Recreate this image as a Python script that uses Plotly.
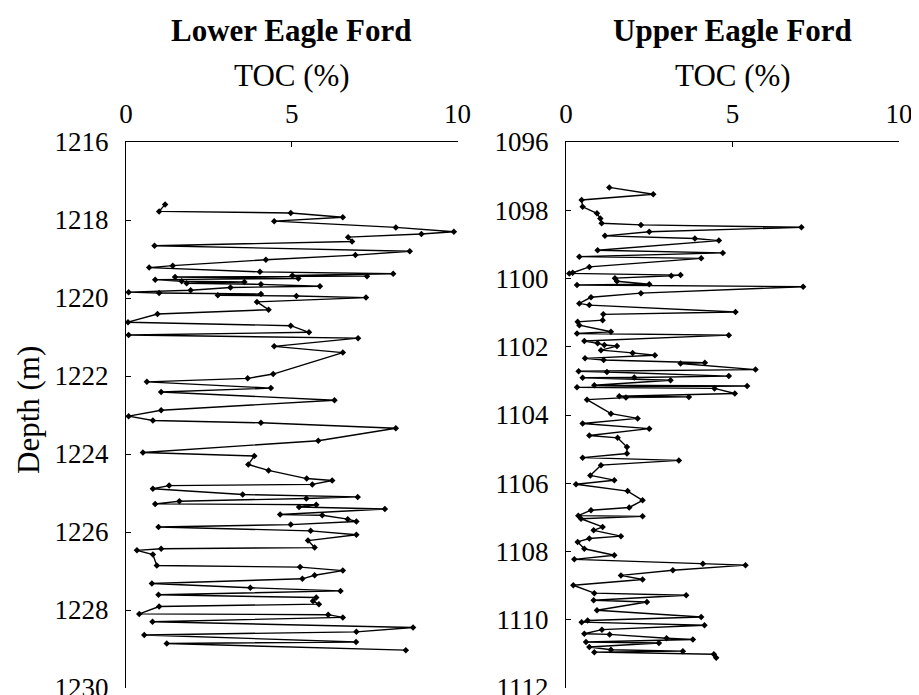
import plotly.graph_objects as go

# Lower Eagle Ford
lower_depth = [1217.60, 1217.78, 1217.82, 1217.93, 1218.03, 1218.19, 1218.30, 1218.36, 1218.44, 1218.55,
               1218.66, 1218.80, 1218.90, 1219.02, 1219.17, 1219.22, 1219.33, 1219.38, 1219.42, 1219.44,
               1219.46, 1219.50, 1219.53, 1219.57, 1219.59, 1219.62, 1219.65, 1219.70, 1219.73, 1219.80,
               1219.85, 1219.87, 1219.90, 1219.93, 1219.95, 1219.99, 1220.10, 1220.30, 1220.41, 1220.62,
               1220.71, 1220.88, 1220.95, 1221.03, 1221.24, 1221.40, 1221.95, 1222.06, 1222.15, 1222.31,
               1222.41, 1222.62, 1222.88, 1223.03, 1223.14, 1223.20, 1223.34, 1223.66, 1223.96, 1224.05,
               1224.27, 1224.42, 1224.63, 1224.68, 1224.78, 1224.81, 1224.89, 1225.04, 1225.10, 1225.14,
               1225.21, 1225.28, 1225.30, 1225.36, 1225.41, 1225.55, 1225.57, 1225.67, 1225.73, 1225.81,
               1225.87, 1225.97, 1226.07, 1226.22, 1226.40, 1226.43, 1226.47, 1226.58, 1226.86, 1226.90,
               1226.99, 1227.11, 1227.20, 1227.32, 1227.43, 1227.51, 1227.61, 1227.68, 1227.77, 1227.85,
               1227.91, 1228.10, 1228.12, 1228.19, 1228.30, 1228.45, 1228.56, 1228.64, 1228.82, 1228.86,
               1229.03]
lower_toc = [1.18, 1.00, 4.97, 6.54, 4.47, 8.14, 9.89, 8.91, 6.70, 6.82,
             0.86, 8.56, 6.92, 4.22, 1.41, 0.70, 4.04, 8.06, 5.02, 7.27,
             1.48, 5.20, 0.88, 1.68, 3.57, 1.83, 4.07, 5.85, 3.15, 1.95,
             0.08, 1.00, 4.07, 2.77, 5.14, 7.24, 3.95, 4.30, 0.95, 0.06,
             4.97, 5.52, 0.08, 7.00, 4.47, 6.54, 4.44, 3.67, 0.63, 4.37,
             1.06, 6.29, 1.06, 0.08, 0.81, 4.07, 8.14, 5.80, 0.51, 3.87,
             3.69, 4.30, 5.45, 6.22, 5.62, 1.30, 0.81, 3.52, 6.99, 5.44,
             1.61, 0.88, 5.74, 5.22, 7.81, 4.65, 5.92, 6.69, 6.95, 4.97,
             0.98, 5.57, 6.95, 5.49, 5.69, 1.06, 0.33, 0.81, 0.93, 5.25,
             6.54, 5.69, 5.32, 0.78, 3.75, 6.47, 0.98, 5.74, 5.64, 5.82,
             1.00, 0.40, 6.10, 6.54, 0.80, 8.66, 6.95, 0.55, 6.94, 1.23,
             8.44]

# Upper Eagle Ford
upper_depth = [1097.33, 1097.53, 1097.70, 1097.90, 1098.09, 1098.24, 1098.38, 1098.43, 1098.50, 1098.63,
               1098.75, 1098.83, 1098.89, 1099.17, 1099.25, 1099.36, 1099.41, 1099.66, 1099.83, 1099.85,
               1099.90, 1099.92, 1099.99, 1100.08, 1100.17, 1100.19, 1100.24, 1100.43, 1100.55, 1100.73,
               1100.78, 1100.98, 1101.05, 1101.22, 1101.27, 1101.37, 1101.56, 1101.61, 1101.66, 1101.83,
               1101.90, 1101.95, 1101.98, 1102.10, 1102.18, 1102.25, 1102.34, 1102.39, 1102.47, 1102.49,
               1102.67, 1102.72, 1102.74, 1102.86, 1102.90, 1102.91, 1102.98, 1103.13, 1103.15, 1103.19,
               1103.22, 1103.37, 1103.45, 1103.47, 1103.49, 1103.55, 1103.96, 1104.10, 1104.25, 1104.40,
               1104.60, 1104.67, 1104.94, 1105.13, 1105.25, 1105.33, 1105.47, 1105.77, 1105.91, 1106.03,
               1106.23, 1106.50, 1106.71, 1106.79, 1106.95, 1106.97, 1107.04, 1107.28, 1107.38, 1107.55,
               1107.62, 1107.72, 1107.92, 1108.11, 1108.23, 1108.36, 1108.40, 1108.55, 1108.70, 1108.82,
               1108.99, 1109.22, 1109.28, 1109.43, 1109.48, 1109.72, 1109.92, 1110.02, 1110.07, 1110.16,
               1110.29, 1110.41, 1110.43, 1110.54, 1110.58, 1110.65, 1110.68, 1110.80, 1110.88, 1110.92,
               1110.95, 1111.01, 1111.11]
upper_toc = [1.30, 2.62, 0.47, 0.50, 0.93, 1.03, 1.07, 2.25, 7.07, 2.50,
             1.17, 3.87, 4.59, 0.95, 4.71, 0.40, 4.06, 0.70, 0.20, 0.10,
             3.44, 3.16, 1.47, 1.53, 2.50, 0.33, 7.12, 2.25, 0.75, 0.40,
             0.70, 5.09, 1.12, 1.10, 0.35, 0.40, 1.35, 0.33, 4.89, 0.55,
             0.95, 1.15, 1.53, 1.05, 2.00, 2.67, 0.57, 1.13, 4.17, 3.44,
             5.69, 0.38, 1.23, 4.89, 2.05, 0.50, 3.14, 0.85, 5.44, 0.33,
             4.46, 5.07, 1.60, 3.69, 1.80, 0.63, 1.35, 2.15, 0.50, 2.50,
             0.70, 1.55, 1.83, 1.83, 0.50, 3.39, 1.05, 0.73, 1.45, 0.30,
             1.85, 2.30, 1.90, 0.75, 0.37, 2.30, 0.45, 1.10, 0.83, 1.65,
             0.70, 0.35, 0.55, 1.45, 0.25, 4.11, 5.39, 3.21, 1.65, 2.30,
             0.22, 0.85, 3.61, 0.83, 2.43, 0.93, 4.06, 0.65, 0.47, 4.16,
             1.08, 0.55, 1.31, 3.02, 3.81, 0.60, 2.79, 0.70, 1.35, 3.51,
             0.85, 4.44, 4.51]

toc_ticks = [0, 5, 10]
lower_ticks = [1216, 1218, 1220, 1222, 1224, 1226, 1228, 1230]
upper_ticks = [1096, 1098, 1100, 1102, 1104, 1106, 1108, 1110, 1112]

FONT = "Liberation Serif, Times New Roman, serif"
OFF = 8  # default page body margin
W, H = 919 - OFF, 695 - OFF


def px(x):
    return (x - OFF) / W


def py(y):
    return 1 - (y - OFF) / H


fig = go.Figure()
style = dict(mode="lines+markers", line=dict(color="black", width=1.4),
             marker=dict(symbol="diamond", size=5, color="black"), showlegend=False,
             cliponaxis=False)
fig.add_trace(go.Scatter(x=lower_toc, y=lower_depth, xaxis="x", yaxis="y", **style))
fig.add_trace(go.Scatter(x=upper_toc, y=upper_depth, xaxis="x2", yaxis="y2", **style))

ydom = [py(688), py(142)]
x1dom = [px(126), px(457.5)]
x2dom = [px(566), px(899)]

xcommon = dict(range=[0, 10], tickvals=toc_ticks, side="top", showline=True, linecolor="black",
               linewidth=1.3, ticks="inside", ticklen=5, tickcolor="black", showgrid=False,
               zeroline=False, tickfont=dict(family=FONT, size=27, color="black"),
               ticklabelstandoff=7, automargin=False, ticklabeloverflow="allow")
ycommon = dict(showline=True, linecolor="black", linewidth=1.3, ticks="inside", ticklen=5,
               tickcolor="black", showgrid=False, zeroline=False,
               tickfont=dict(family=FONT, size=27, color="black"), ticklabelstandoff=11,
               automargin=False, ticklabeloverflow="allow")

fig.update_layout(
    width=W, height=H, margin=dict(l=0, r=0, t=0, b=0, autoexpand=False),
    paper_bgcolor="white", plot_bgcolor="white",
    xaxis=dict(domain=x1dom, anchor="y", **xcommon),
    xaxis2=dict(domain=x2dom, anchor="y2", **xcommon),
    yaxis=dict(domain=ydom, anchor="x", range=[1230, 1216], tickvals=lower_ticks, **ycommon),
    yaxis2=dict(domain=ydom, anchor="x2", range=[1112, 1096], tickvals=upper_ticks, **ycommon),
)

for dom, title in [(x1dom, "Lower Eagle Ford"), (x2dom, "Upper Eagle Ford")]:
    cx = (dom[0] + dom[1]) / 2
    fig.add_annotation(x=cx, y=py(30), xref="paper", yref="paper", text="<b>" + title + "</b>",
                       showarrow=False, xanchor="center", yanchor="middle",
                       font=dict(family=FONT, size=31, color="black"))
    fig.add_annotation(x=cx, y=py(75), xref="paper", yref="paper", text="TOC (%)",
                       showarrow=False, xanchor="center", yanchor="middle",
                       font=dict(family=FONT, size=31, color="black"))

fig.add_annotation(x=px(28), y=py(410), xref="paper", yref="paper", text="Depth (m)",
                   textangle=-90, showarrow=False, xanchor="center", yanchor="middle",
                   font=dict(family=FONT, size=31, color="black"))

fig.write_html("out.html")
